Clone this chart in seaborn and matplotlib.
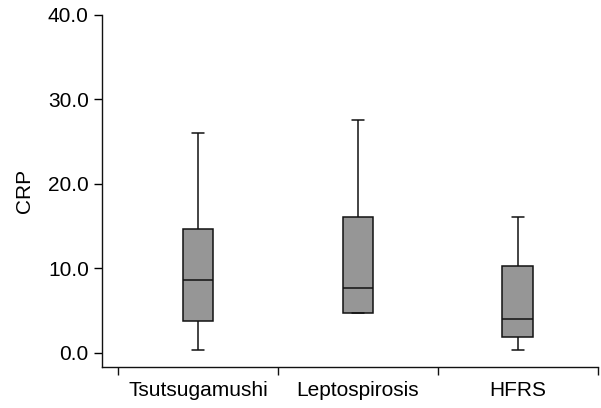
import numpy as np
import pandas as pd
import matplotlib
matplotlib.use("Agg")
import matplotlib.pyplot as plt
import seaborn as sns

# ----------------------------------------------------------
# 1. DATA (five-number summaries)
# ----------------------------------------------------------
groups = ["Tsutsugamushi", "Leptospirosis", "HFRS"]
crp_min = [0.3, 4.7, 0.25]
crp_q1 = [3.7, 4.7, 1.9]
crp_median = [8.6, 7.7, 3.95]
crp_q3 = [14.65, 16.1, 10.2]
crp_max = [26.05, 27.6, 16.1]
y_ticks = [0, 10, 20, 30, 40]

# five values per group -> quartiles land exactly on the summary values
rows = []
for i, g in enumerate(groups):
    for v in (crp_min[i], crp_q1[i], crp_median[i], crp_q3[i], crp_max[i]):
        rows.append({"group": g, "CRP": v})
df = pd.DataFrame(rows)

# ----------------------------------------------------------
# 2. PLOT
# ----------------------------------------------------------
sns.set_style("ticks")
plt.rcParams["font.family"] = ["Liberation Sans", "DejaVu Sans"]
FS = 15

fig = plt.figure(figsize=(6.01, 4.08), dpi=100)
ax = fig.add_axes([102 / 601, 1 - 367.3 / 408, (597.5 - 102) / 601, (367.3 - 15) / 408])

line_kws = dict(color="#111111", linewidth=1.1)
sns.boxplot(data=df, x="group", y="CRP", order=groups, ax=ax,
            whis=(0, 100), width=0.19, color="#969696", saturation=1,
            linecolor="#111111", linewidth=1.1,
            boxprops=dict(edgecolor="#111111", linewidth=1.1),
            whiskerprops=line_kws, capprops=line_kws, medianprops=line_kws,
            showfliers=False, capwidths=0.075)

ax.set_xlim(-0.6, 2.5)
ax.set_ylim(-1.75, 40)
ax.set_yticks(y_ticks)
ax.set_yticklabels([f"{t:.1f}" for t in y_ticks])
ax.set_xticks(range(len(groups)))
ax.set_xticklabels(groups)
ax.set_xticks([-0.5, 0.5, 1.5, 2.5], minor=True)
ax.tick_params(axis="x", which="major", length=0, pad=10, labelsize=FS, colors="black")
ax.tick_params(axis="x", which="minor", length=5.5, width=1.0, color="#111111")
ax.tick_params(axis="y", length=5.5, width=1.0, pad=4, labelsize=FS, colors="black")
ax.set_xlabel("")
ax.set_ylabel("CRP", fontsize=FS, color="black", labelpad=10)

for side in ["top", "right"]:
    ax.spines[side].set_visible(False)
for side in ["left", "bottom"]:
    ax.spines[side].set_linewidth(1.0)
    ax.spines[side].set_color("#111111")

fig.savefig("out.png", dpi=100)
plt.close(fig)
